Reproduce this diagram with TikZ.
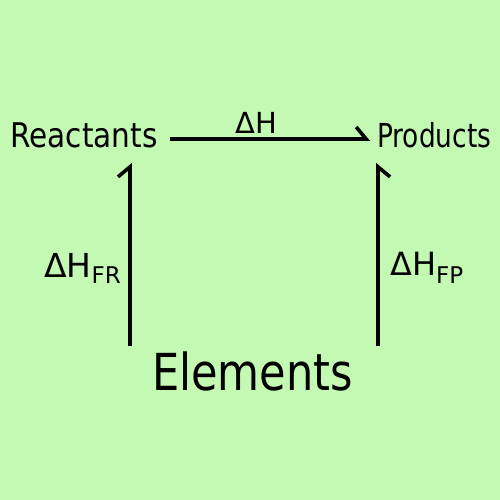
\documentclass[tikz,border=0pt]{standalone}
\usepackage{fontspec}
\setmainfont{DejaVu Sans}
\usetikzlibrary{arrows.meta}
\definecolor{bg}{RGB}{196,249,180}
\tikzset{
  lbl/.style={inner sep=0pt, anchor=base west, text=black},
  conn/.style={line width=4pt, draw=black},
  tipL/.style={-{Straight Barb[harpoon,length=10pt,width=24pt,line width=3.6pt]}},
  tipR/.style={-{Straight Barb[harpoon,swap,length=10pt,width=24pt,line width=3.6pt]}},
}
\begin{document}
\begin{tikzpicture}[x=1pt,y=-1pt]
\fill[bg] (0,0) rectangle (500,500);
\useasboundingbox (0,0) rectangle (500,500);
\node[lbl, font=\fontsize{34}{34}\selectfont] (react) at (10,147) {\scalebox{0.87}[1]{Reactants}};
\node[lbl, font=\fontsize{33}{33}\selectfont] (prod) at (377,147) {\scalebox{0.80}[1]{Products}};
\node[lbl, font=\fontsize{51}{51}\selectfont] (elem) at (152,390) {\scalebox{0.845}[1]{Elements}};
\node[lbl, font=\fontsize{29}{29}\selectfont] (dh) at (235,133) {ΔH};
\node[lbl, font=\fontsize{33}{33}\selectfont] (dhfr) at (44,277) {ΔH\fontsize{23}{23}\selectfont\raisebox{-6pt}{FR}};
\node[lbl, font=\fontsize{32}{32}\selectfont] (dhfp) at (390,275) {ΔH\fontsize{23}{23}\selectfont\raisebox{-8pt}{FP}};
\coordinate (h1) at (170,139);
\coordinate (h2) at (370,139);
\coordinate (l1) at (130,346);
\coordinate (l2) at (130,163);
\coordinate (r1) at (378,346);
\coordinate (r2) at (378,163);
\draw[conn, tipL] (h1) -- (h2);
\draw[conn, tipL] (l1) -- (l2);
\draw[conn, tipR] (r1) -- (r2);
\end{tikzpicture}
\end{document}
